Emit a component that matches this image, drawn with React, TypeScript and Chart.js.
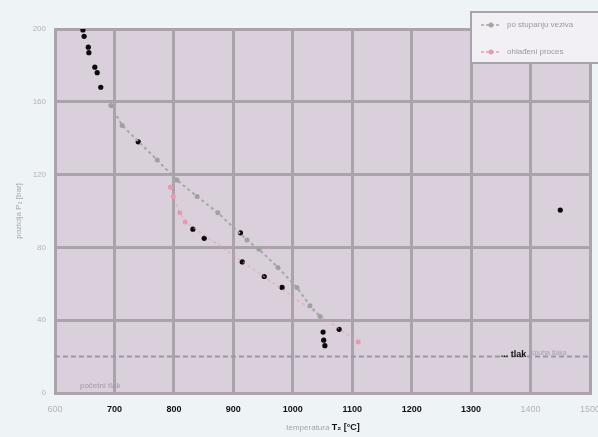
import { useEffect, useRef } from 'react';
import { Chart, registerables } from 'chart.js';
Chart.register(...registerables);

const xTickValues = [600, 700, 800, 900, 1000, 1100, 1200, 1300, 1400, 1500];
const boldXTicks = [700, 800, 900, 1000, 1100, 1200, 1300];
const yTickValues = [0, 40, 80, 120, 160, 200];

const grayX = [694, 713, 772, 805, 839, 874, 923, 943, 975, 1007, 1029, 1046];
const grayY = [158, 147, 128, 117, 108, 99, 84, 79, 69, 58, 48, 42];

const redX = [794, 799, 810, 819, 1110];
const redY = [113, 108, 99, 94, 28];

const blackX = [647, 649, 656, 657, 667, 671, 677, 740, 832, 851, 912, 915, 952, 982, 1051, 1052, 1054, 1078, 1450];
const blackY = [199.5, 196, 190, 187, 179, 176, 168, 138, 90, 85, 88, 72, 64, 58, 33.5, 29, 26, 35, 100.5];

const limitX = [600, 1500];
const limitY = [20, 20];

const legendLabels = ['po stupanju veziva', 'ohlađeni proces'];
const xTitleGray = 'temperatura';
const xTitleBlack = 'T\u2082 [°C]';
const yTitle = 'pozicija P\u2082 [bar]';
const noteLeft = 'početni tlak';
const noteRightBlack = '... tlak';
const noteRightGray = 'ispuha tlaka';

const FAMILY = '"Liberation Sans", Arial, sans-serif';
const GRID = '#aaa3ab';
const GRAY_SERIES = '#a3a8a2';
const RED_SERIES = '#e79aae';

const zip = (xs: number[], ys: number[]) => xs.map((x, i) => ({ x, y: ys[i] }));

const bgPlugin = {
  id: 'bg',
  beforeDraw(chart: any) {
    const { ctx, chartArea: a } = chart;
    ctx.save();
    ctx.fillStyle = '#eef3f6';
    ctx.fillRect(0, 0, chart.width, chart.height);
    ctx.fillStyle = '#d9d0dc';
    ctx.fillRect(a.left, a.top, a.right - a.left, a.bottom - a.top);
    ctx.restore();
  },
};

const overlayPlugin = {
  id: 'overlay',
  afterDraw(chart: any) {
    const { ctx, scales } = chart;
    const xs = scales.x;
    const ys = scales.y;
    ctx.save();
    // legend box
    ctx.fillStyle = '#f2f0f5';
    ctx.strokeStyle = '#a8a4ac';
    ctx.lineWidth = 2;
    ctx.fillRect(471, 12, 130, 51);
    ctx.strokeRect(471, 12, 130, 51);
    const entries = [
      { y: 25, color: GRAY_SERIES, text: legendLabels[0] },
      { y: 52, color: RED_SERIES, text: legendLabels[1] },
    ];
    ctx.font = `8px ${FAMILY}`;
    ctx.textBaseline = 'middle';
    for (const e of entries) {
      ctx.strokeStyle = e.color;
      ctx.lineWidth = 1.5;
      ctx.setLineDash([3, 2]);
      ctx.beginPath();
      ctx.moveTo(481, e.y);
      ctx.lineTo(501, e.y);
      ctx.stroke();
      ctx.setLineDash([]);
      ctx.fillStyle = e.color;
      ctx.beginPath();
      ctx.arc(491, e.y, 2.5, 0, Math.PI * 2);
      ctx.fill();
      ctx.fillStyle = '#9a98a0';
      ctx.textAlign = 'left';
      ctx.fillText(e.text, 507, e.y);
    }
    // x title
    ctx.font = `8px ${FAMILY}`;
    ctx.textAlign = 'left';
    ctx.fillStyle = '#a4a6b0';
    const grayW = ctx.measureText(xTitleGray + ' ').width;
    ctx.font = `bold 9px ${FAMILY}`;
    const blackW = ctx.measureText(xTitleBlack).width;
    const startX = 323 - (grayW + blackW) / 2;
    ctx.font = `8px ${FAMILY}`;
    ctx.fillText(xTitleGray + ' ', startX, 428);
    ctx.font = `bold 9px ${FAMILY}`;
    ctx.fillStyle = '#111';
    ctx.fillText(xTitleBlack, startX + grayW, 428);
    // y title
    ctx.save();
    ctx.translate(19, 211);
    ctx.rotate(-Math.PI / 2);
    ctx.textAlign = 'center';
    ctx.font = `8px ${FAMILY}`;
    ctx.fillStyle = '#a4a6b0';
    ctx.fillText(yTitle, 0, 0);
    ctx.restore();
    // notes
    ctx.font = `8px ${FAMILY}`;
    ctx.fillStyle = '#a29aa6';
    ctx.textAlign = 'left';
    ctx.fillText(noteLeft, xs.getPixelForValue(642), ys.getPixelForValue(4));
    ctx.font = `bold 9px ${FAMILY}`;
    ctx.fillStyle = '#111';
    ctx.fillText(noteRightBlack, xs.getPixelForValue(1350), ys.getPixelForValue(21));
    const bw = ctx.measureText(noteRightBlack).width;
    ctx.font = `7px ${FAMILY}`;
    ctx.fillStyle = '#a8a2ae';
    ctx.fillText(noteRightGray, xs.getPixelForValue(1350) + bw + 3, ys.getPixelForValue(22));
    ctx.restore();
  },
};

export default function App() {
  const ref = useRef<HTMLCanvasElement>(null);
  useEffect(() => {
    const chart = new Chart(ref.current!, {
      type: 'scatter',
      data: {
        datasets: [
          {
            label: 'limit',
            data: zip(limitX, limitY),
            showLine: true,
            borderColor: '#9e97a3',
            borderWidth: 2,
            borderDash: [5, 3],
            pointRadius: 0,
          },
          {
            label: legendLabels[0],
            data: zip(grayX, grayY),
            showLine: true,
            borderColor: GRAY_SERIES,
            borderWidth: 2,
            borderDash: [3, 3],
            pointRadius: 2.5,
            pointBackgroundColor: '#9da39c',
            pointBorderWidth: 0,
          },
          {
            label: legendLabels[1],
            data: zip(redX, redY),
            showLine: true,
            borderColor: 'rgba(231,154,174,0.55)',
            borderWidth: 1.5,
            borderDash: [3, 3],
            pointRadius: 2.5,
            pointBackgroundColor: RED_SERIES,
            pointBorderWidth: 0,
          },
          {
            label: 'marks',
            data: zip(blackX, blackY),
            showLine: false,
            pointRadius: 2.6,
            pointBackgroundColor: '#0a0a0a',
            pointBorderWidth: 0,
          },
        ],
      },
      options: {
        animation: false,
        responsive: false,
        devicePixelRatio: 1,
        layout: { padding: { top: 29, right: 8, left: 0, bottom: 0 } },
        plugins: { legend: { display: false }, tooltip: { enabled: false } },
        scales: {
          x: {
            type: 'linear',
            min: 600,
            max: 1500,
            afterBuildTicks: (s: any) => {
              s.ticks = xTickValues.map((v) => ({ value: v }));
            },
            ticks: {
              padding: 11,
              callback: (v: any) => String(v),
              color: (c: any) => (boldXTicks.includes(c.tick?.value) ? '#111' : '#b4b2bc'),
              font: (c: any) => ({
                size: 9,
                family: FAMILY,
                weight: boldXTicks.includes(c.tick?.value) ? 'bold' : 'normal',
              }),
              maxRotation: 0,
              autoSkip: false,
            },
            grid: { color: GRID, lineWidth: 3, drawTicks: false },
            border: { color: GRID, width: 3 },
            afterFit: (s: any) => {
              s.height = 44;
              s.paddingLeft = 0;
              s.paddingRight = 0;
            },
          },
          y: {
            type: 'linear',
            min: 0,
            max: 200,
            afterBuildTicks: (s: any) => {
              s.ticks = yTickValues.map((v) => ({ value: v }));
            },
            ticks: {
              padding: 9,
              callback: (v: any) => String(v),
              color: '#b4b2bc',
              font: { size: 8, family: FAMILY },
            },
            grid: { color: GRID, lineWidth: 3, drawTicks: false },
            border: { color: GRID, width: 3 },
            afterFit: (s: any) => {
              s.width = 55;
              s.paddingTop = 0;
              s.paddingBottom = 0;
            },
          },
        },
      },
      plugins: [bgPlugin, overlayPlugin],
    } as any);
    return () => chart.destroy();
  }, []);
  return (
    <div style={{ position: 'fixed', left: 0, top: 0, width: 598, height: 437, background: '#eef3f6' }}>
      <canvas ref={ref} width={598} height={437} style={{ display: 'block' }} />
    </div>
  );
}
